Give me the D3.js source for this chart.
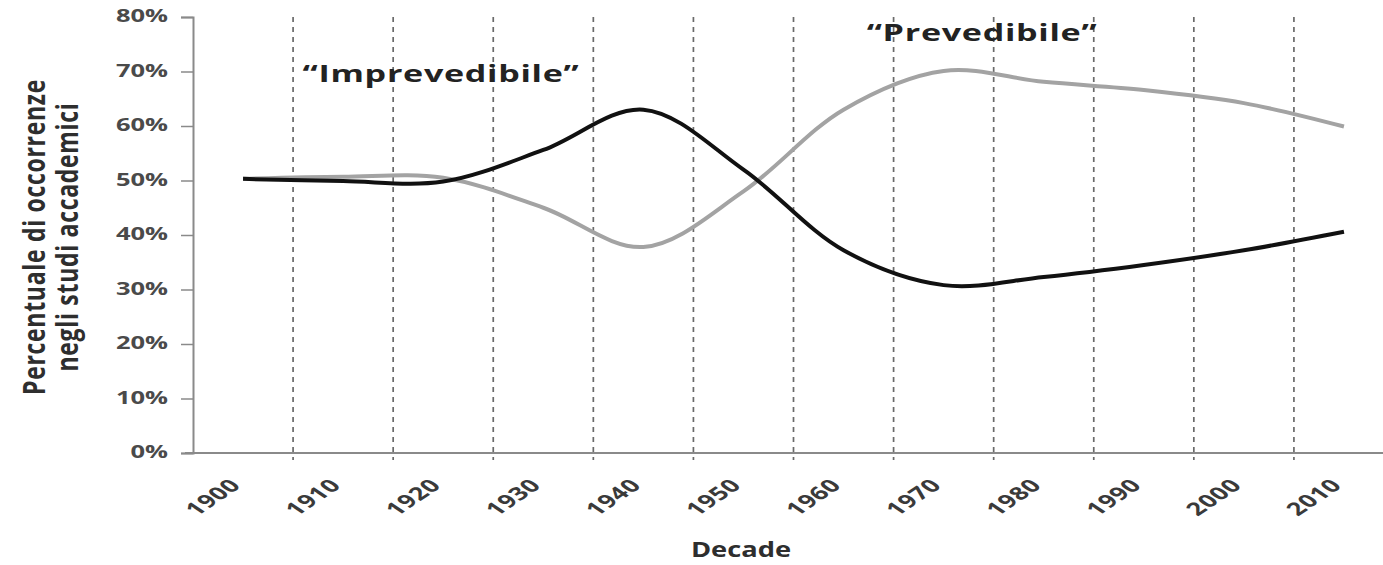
<!DOCTYPE html>
<html>
<head>
<meta charset="utf-8">
<title>Imprevedibile / Prevedibile</title>
<style>
  html, body { margin: 0; background: #fff; }
  svg text { font-family: "Open Sans", sans-serif; }
</style>
<script src="https://d3js.org/d3.v7.min.js"></script>
</head>
<body>
<svg id="chart" width="1383" height="565"></svg>
<script>
// dati (percentuale)
const decades = ["1900", "1910", "1920", "1930", "1940", "1950", "1960", "1970", "1980", "1990", "2000", "2010"];
const imprevedibile = [50.3, 49.9, 49.8, 55.6, 63.0, 52.0, 37.2, 30.8, 32.3, 34.5, 37.2, 40.6];
const prevedibile = [50.3, 50.7, 50.5, 45.0, 37.8, 48.0, 63.0, 70.1, 68.1, 66.6, 64.2, 59.9];
const yTicks = [0, 10, 20, 30, 40, 50, 60, 70, 80];

const SX = 1.3; // testo un po' allargato come nell'originale

const svg = d3.select("#chart");
const plotLeft = 193, plotRight = 1394, plotTop = 17, plotBottom = 453;

const x = d3.scaleBand().domain(decades).range([plotLeft, plotRight]).padding(0);
const y = d3.scaleLinear().domain([0, 80]).range([plotBottom, plotTop]);

// griglia verticale tratteggiata ai confini delle categorie
const bounds = decades.slice(1);
svg.append("g").selectAll("line")
  .data(bounds).enter().append("line")
  .attr("x1", d => x(d)).attr("x2", d => x(d))
  .attr("y1", plotTop).attr("y2", plotBottom + 7)
  .attr("stroke", "#6a6a6a")
  .attr("stroke-width", 1.7)
  .attr("stroke-dasharray", "5,5");

// asse x
svg.append("line")
  .attr("x1", plotLeft - 8).attr("x2", plotRight)
  .attr("y1", plotBottom).attr("y2", plotBottom)
  .attr("stroke", "#8a8a8a").attr("stroke-width", 2);

// asse y
const yAxis = svg.append("g")
  .attr("transform", "translate(" + plotLeft + ",0)")
  .call(d3.axisLeft(y).tickValues(yTicks).tickSize(12).tickFormat(d => d + "%"));
yAxis.select(".domain").attr("stroke", "#8a8a8a").attr("stroke-width", 2);
yAxis.selectAll(".tick line").attr("stroke", "#8a8a8a").attr("stroke-width", 1.5);
yAxis.selectAll(".tick text")
  .attr("x", null).attr("dy", null)
  .attr("transform", "translate(-25,0) scale(1.5,1)")
  .attr("dominant-baseline", "middle")
  .attr("font-family", "DejaVu Sans")
  .attr("font-weight", "bold")
  .attr("font-size", 17)
  .attr("fill", "#4a4a4a");

// etichette x ruotate
svg.append("g").selectAll("text")
  .data(decades).enter().append("text")
  .attr("transform", d => "translate(" + (x(d) + x.bandwidth() / 2 - 6) + "," + (plotBottom + 30) + ") scale(1.5,1) rotate(-45)")
  .attr("text-anchor", "end")
  .attr("dominant-baseline", "middle")
  .attr("font-family", "DejaVu Sans")
  .attr("font-weight", "bold")
  .attr("font-size", 18)
  .attr("letter-spacing", 0.4)
  .attr("fill", "#3a3a3a")
  .text(d => d);

// linee
const line = d3.line()
  .x((d, i) => x(decades[i]) + x.bandwidth() / 2)
  .y(d => y(d))
  .curve(d3.curveCatmullRom);

svg.append("path")
  .datum(prevedibile)
  .attr("d", line)
  .attr("fill", "none")
  .attr("stroke", "#a3a3a3")
  .attr("stroke-width", 4);

svg.append("path")
  .datum(imprevedibile)
  .attr("d", line)
  .attr("fill", "none")
  .attr("stroke", "#111")
  .attr("stroke-width", 4);

// titoli assi
const yTitle = svg.append("text")
  .attr("transform", "translate(45,237) scale(" + SX + ",1) rotate(-90)")
  .attr("text-anchor", "middle")
  .attr("font-weight", "bold")
  .attr("font-size", 23)
  .attr("letter-spacing", 0.7)
  .attr("fill", "#2e2e2e");
yTitle.append("tspan").attr("x", 0).attr("y", 0).text("Percentuale di occorrenze");
yTitle.append("tspan").attr("x", 0).attr("y", 25).text("negli studi accademici");

svg.append("text")
  .attr("transform", "translate(741,557) scale(" + SX + ",1)")
  .attr("text-anchor", "middle")
  .attr("font-weight", "bold")
  .attr("font-size", 21)
  .attr("fill", "#2e2e2e")
  .text("Decade");

// annotazioni
svg.append("text")
  .attr("transform", "translate(441,82) scale(1.42,1)")
  .attr("text-anchor", "middle")
  .attr("font-weight", "bold")
  .attr("font-size", 24)
  .attr("letter-spacing", 0.5)
  .attr("fill", "#222")
  .text("\u201CImprevedibile\u201D");

svg.append("text")
  .attr("transform", "translate(982,41) scale(1.42,1)")
  .attr("text-anchor", "middle")
  .attr("font-weight", "bold")
  .attr("font-size", 24)
  .attr("letter-spacing", 0.5)
  .attr("fill", "#222")
  .text("\u201CPrevedibile\u201D");
</script>
</body>
</html>
